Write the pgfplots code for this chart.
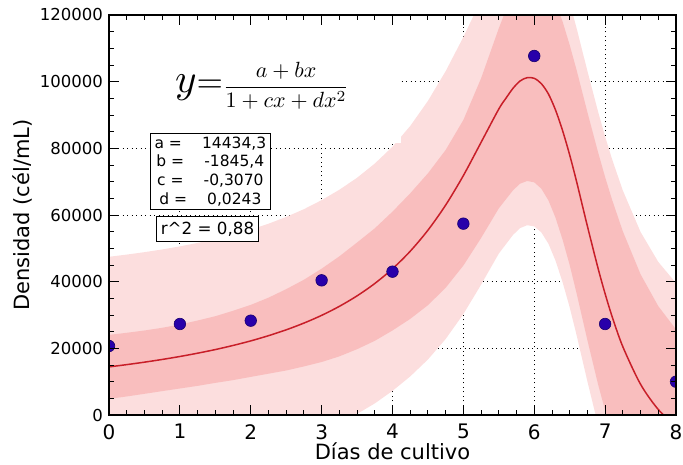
\documentclass[border=0pt]{standalone}
\usepackage[no-math]{fontspec}
\setmainfont{DejaVu Sans}
\usepackage{pgfplots}
\pgfplotsset{compat=1.18}
\usepackage{pgfplotstable}
\usepgfplotslibrary{fillbetween}

\definecolor{bandout}{RGB}{252,222,222}
\definecolor{bandin}{RGB}{249,190,190}
\definecolor{fitred}{RGB}{200,30,40}
\definecolor{ptblue}{RGB}{40,0,170}
\definecolor{ptedge}{RGB}{25,0,110}

% grid under the plots, ticks and frame over them
\pgfplotsset{
  layers/chartlayers/.define layer set={
    axis background,axis grid,pre main,main,axis ticks,axis lines,axis tick labels,axis descriptions,axis foreground
  }{/pgfplots/layers/standard},
}

% fitted curve with inner and outer bands
\pgfplotstableread{
x f olo ilo ihi ohi
0 14434 -18600 4830 24030 47460
0.25 15110 -17900 5560 24660 48120
0.5 15850 -17150 6350 25350 48850
0.75 16660 -16340 7160 26160 49660
1 17550 -15480 7950 27150 50580
1.25 18540 -14540 8740 28340 51620
1.5 19630 -13520 9630 29630 52780
1.75 20860 -12410 10460 31260 54130
2 22230 -11160 11430 33030 55620
2.25 23790 -9800 12390 35190 57380
2.5 25550 -8320 13350 37750 59420
2.75 27570 -6600 14570 40570 61740
3 29890 -4670 15890 43890 64450
3.25 32590 -2390 17590 47590 67570
3.5 35740 320 19740 51740 71160
3.75 39450 3470 22250 56000 75430
4 43860 7240 25360 61000 80480
4.25 49130 11570 28830 66500 86690
4.5 55440 16650 32940 72500 94230
4.75 62970 22800 38170 79500 103140
5 71830 30270 44830 88500 113390
5.25 81800 39110 53100 101000 124490
5.5 91800 48420 61990 116000 135560
5.6 95000 51220 64700 121500 138780
5.7 98000 54010 67400 126000 141990
5.8 100200 56070 69400 130000 144330
5.9 101200 56930 70200 132200 145470
6 101000 56590 69800 132200 145410
6.1 99400 54780 67900 130900 144020
6.2 96300 51400 64400 128200 141200
6.3 91500 46310 59200 123800 136690
6.4 85300 39830 52600 118000 130770
6.5 78000 32310 45000 111000 123690
6.6 69790 23740 36290 103290 115840
6.75 56640 10080 22440 90840 103200
6.9 44040 -2970 9240 78840 91050
7 36370 -10790 1370 71370 83530
7.1 29450 -17710 -5550 64450 76610
7.25 20480 -26380 -14120 55080 67340
7.5 9220 -36470 -23780 42220 54910
7.75 1650 -42620 -29350 32650 45920
8 -3320 -46210 -32320 25680 39570
}\fitdata

% measured densities
\pgfplotstableread{
x y
0 20700
1 27300
2 28300
3 40400
4 43000
5 57400
6 107700
7 27300
8 10000
}\cultivo

\begin{document}
\begin{tikzpicture}
\begin{axis}[
  set layers=chartlayers,
  at={(0,0)}, anchor=south west,
  scale only axis, width=567pt, height=400pt,
  xmin=0, xmax=8, ymin=0, ymax=120000,
  xtick={0,...,8},
  ytick={0,20000,...,120000},
  yticklabels={0,20000,40000,60000,80000,100000,120000},
  scaled y ticks=false,
  /pgf/number format/assume math mode=true,
  minor x tick num=3, minor y tick num=3,
  tick align=inside,
  major tick length=10pt, minor tick length=5pt,
  every tick/.style={black, line width=0.9pt},
  axis line style={black, line width=1.2pt},
  grid=major,
  major grid style={black, line width=0.8pt, dash pattern=on 1.2pt off 3.3pt},
  xticklabel style={font=\fontsize{20}{22}\selectfont, inner sep=0pt, yshift=-9pt},
  yticklabel style={font=\fontsize{16.5}{18}\selectfont, inner sep=0pt, xshift=-6pt},
  xlabel={Días de cultivo},
  ylabel={Densidad (cél/mL)},
  label style={font=\fontsize{21}{24}\selectfont},
  xlabel style={at={(axis description cs:0.5,-0.1125)}, anchor=base},
  ylabel style={at={(axis description cs:-0.152,0.5)}, anchor=center},
  clip marker paths=true,
]
\addplot[draw=none, name path=olo, forget plot] table[x=x, y=olo] {\fitdata};
\addplot[draw=none, name path=ohi, forget plot] table[x=x, y=ohi] {\fitdata};
\addplot[draw=none, name path=ilo, forget plot] table[x=x, y=ilo] {\fitdata};
\addplot[draw=none, name path=ihi, forget plot] table[x=x, y=ihi] {\fitdata};
\addplot[bandout, draw=none] fill between[of=olo and ohi];
\addplot[bandin, draw=none] fill between[of=ilo and ihi];

% the equation's white background hides grid and band
\fill[white] (axis cs:0,81500) rectangle (axis cs:4.12,120000);

\addplot[fitred, line width=1.5pt, smooth] table[x=x, y=f] {\fitdata};
\addplot[only marks, mark=*, mark size=5.8pt,
  mark options={fill=ptblue, draw=ptedge, line width=0.6pt}] table {\cultivo};

% 10pt math scaled up, since the math fonts come in fixed sizes
\node[inner sep=0pt] at (axis cs:2.16,98700)
  {\scalebox{4.1}{$y$}\scalebox{3.4}{$=$}\scalebox{2.2}{$\displaystyle\frac{a+bx}{1+cx+dx^2}$}};
\node[draw=black, line width=1.2pt, fill=white, inner xsep=4pt, inner ysep=3pt, align=center,
  font=\fontsize{15.5}{18.7}\selectfont] at (axis cs:1.43,73050)
  {a =\hspace{1.3em}14434,3\\ b =\hspace{1.3em}-1845,4\\ c =\hspace{1.3em}-0,3070\\ d =\hspace{1.3em}0,0243};
\node[draw=black, line width=1.2pt, fill=white, inner xsep=4pt, inner ysep=5pt,
  font=\fontsize{16.7}{19}\selectfont] at (axis cs:1.39,55800)
  {r\textasciicircum 2 = 0,88};
\end{axis}
\pgfresetboundingbox
\path[use as bounding box] (-109pt,-50pt) rectangle (574pt,415pt);
\end{tikzpicture}
\end{document}
